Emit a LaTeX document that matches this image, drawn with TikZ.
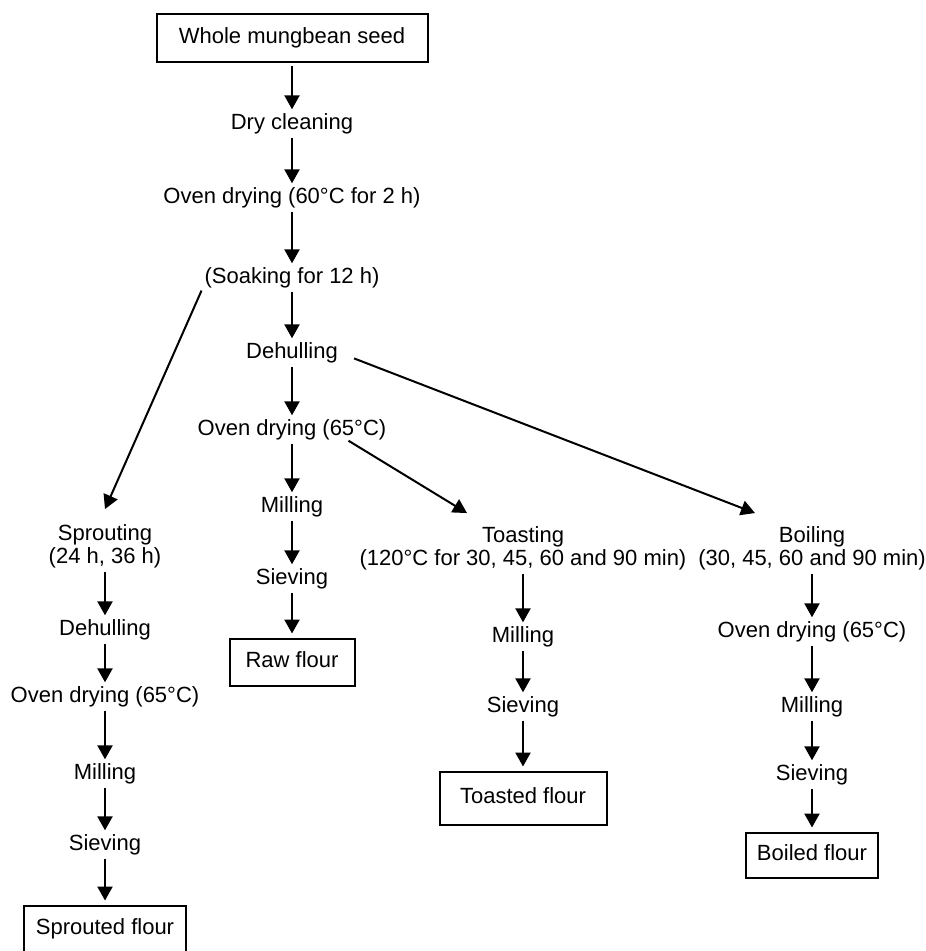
\documentclass[tikz,border=0pt]{standalone}
\usepackage{fontspec}
\setmainfont{Liberation Sans}
\usetikzlibrary{arrows.meta}
\tikzset{
  stage/.style={font=\fontsize{22}{23}\selectfont, text height=16pt, text depth=5pt, inner xsep=2pt, inner ysep=0pt},
  twoline/.style={font=\fontsize{22}{23}\selectfont, align=center, inner sep=1pt},
  flourbox/.style={stage, draw, line width=2pt, minimum height=47pt},
  flow/.style={line width=2.4pt, -{Triangle[length=14pt,width=15pt]}, shorten <=3pt, shorten >=4pt}
}

\begin{document}
\begin{tikzpicture}[x=1pt,y=1pt]
\useasboundingbox (0,0) rectangle (926,-951);
\node[flourbox, minimum width=271pt, minimum height=48pt] (seed) at (292,-38) {Whole mungbean seed};
\node[stage] (clean) at (292,-124) {Dry cleaning};
\node[stage] (dry1) at (292,-198) {Oven drying (60°C for 2 h)};
\node[stage] (soak) at (292,-278) {(Soaking for 12 h)};
\node[stage] (dehull) at (292,-353) {Dehulling};
\node[stage] (dry2) at (292,-430) {Oven drying (65°C)};
\node[stage] (mill) at (292,-507) {Milling};
\node[stage] (sieve) at (292,-579) {Sieving};
\node[flourbox, minimum width=125pt] (raw) at (292,-662) {Raw flour};
\node[twoline] (sprout) at (105,-546) {Sprouting\\(24 h, 36 h)};
\node[stage] (sdehull) at (105,-630) {Dehulling};
\node[stage] (sdry) at (105,-697) {Oven drying (65°C)};
\node[stage] (smill) at (105,-774) {Milling};
\node[stage] (ssieve) at (105,-845) {Sieving};
\node[flourbox, minimum width=162pt] (sprouted) at (105,-929) {Sprouted flour};
\node[twoline] (toast) at (523,-548) {Toasting\\(120°C for 30, 45, 60 and 90 min)};
\node[stage] (tmill) at (523,-637) {Milling};
\node[stage] (tsieve) at (523,-707) {Sieving};
\node[flourbox, minimum width=167pt, minimum height=53pt] (toasted) at (523,-798) {Toasted flour};
\node[twoline] (boil) at (812,-548) {Boiling\\(30, 45, 60 and 90 min)};
\node[stage] (bdry) at (812,-632) {Oven drying (65°C)};
\node[stage] (bmill) at (812,-707) {Milling};
\node[stage] (bsieve) at (812,-775) {Sieving};
\node[flourbox, minimum width=132pt, minimum height=45pt] (boiled) at (812,-855) {Boiled flour};
\foreach \a/\b in {seed/clean, clean/dry1, dry1/soak, soak/dehull, dehull/dry2, dry2/mill, mill/sieve, sieve/raw, sprout/sdehull, sdehull/sdry, sdry/smill, smill/ssieve, ssieve/sprouted, toast/tmill, tmill/tsieve, tsieve/toasted, boil/bdry, bdry/bmill, bmill/bsieve, bsieve/boiled}
  \draw[flow] (\a.south) -- (\b.north);
\draw[flow, line width=2pt, shorten <=2pt, shorten >=0pt] (soak.south west) -- ([yshift=14pt]sprout.north);
\draw[flow, line width=2pt, shorten <=15pt, shorten >=0pt] (dehull.east) -- ([shift={(-57pt,12pt)}]boil.north);
\draw[flow, line width=2pt, shorten <=0pt, shorten >=0pt] ([xshift=-40pt]dry2.south east) -- ([shift={(-56pt,12pt)}]toast.north);
\end{tikzpicture}
\end{document}
